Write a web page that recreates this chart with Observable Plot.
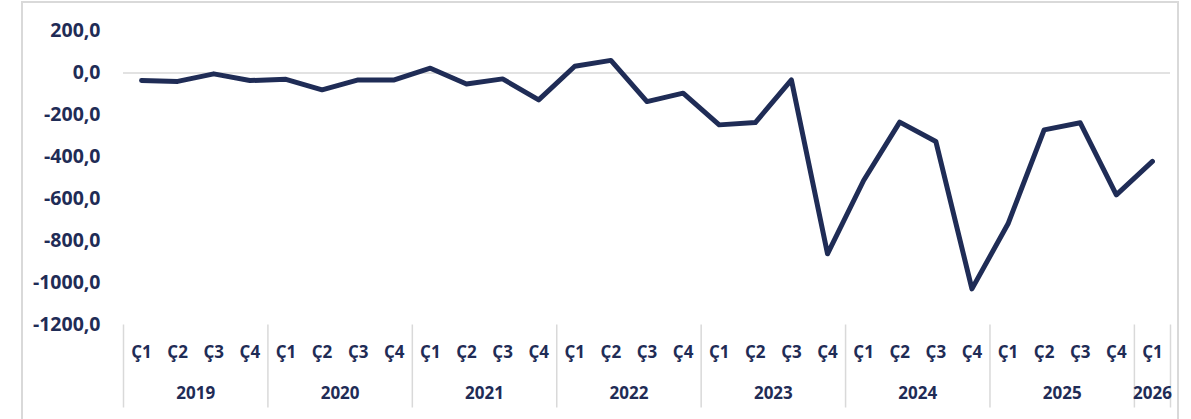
<!DOCTYPE html>
<html>
<head>
<meta charset="utf-8">
<script src="https://cdn.jsdelivr.net/npm/d3@7"></script>
<script src="https://cdn.jsdelivr.net/npm/@observablehq/plot@0.6"></script>
<style>
  html, body { margin: 0; padding: 0; background: #fff; overflow: hidden; }
  #wrap { position: relative; width: 1191px; height: 419px; }
  #frame { position: absolute; left: 21px; top: 1px; width: 1158px; height: 440px; border: 2px solid #d9d9d9; box-sizing: border-box; }
  #chart { position: absolute; left: 0; top: 0; }
</style>
</head>
<body>
<div id="wrap"><div id="frame"></div><div id="chart"></div></div>
<script>
const years = [2019, 2020, 2021, 2022, 2023, 2024, 2025, 2026];
const quarters = ["Ç1", "Ç2", "Ç3", "Ç4"];
const quartersPerYear = [4, 4, 4, 4, 4, 4, 4, 1];
const values = [
  -36, -40, -4, -36,
  -30, -80, -33, -33,
  23, -52, -28, -128,
  32, 60, -136, -96,
  -247, -236, -33, -861,
  -512, -234, -326, -1028,
  -718, -271, -237, -580,
  -421
];
const yTicks = [200, 0, -200, -400, -600, -800, -1000, -1200];

// Build rows
const rows = [];
const yearLabels = [];
const bounds = [-0.5];
let idx = 0;
years.forEach((yr, k) => {
  const start = idx;
  for (let q = 0; q < quartersPerYear[k]; q++) {
    rows.push({ i: idx, year: yr, q: quarters[q], v: values[idx] });
    idx++;
  }
  yearLabels.push({ x: (start + idx - 1) / 2, label: String(yr) });
  bounds.push(idx - 0.5);
});

const navy = "#1f2c56";
const fmt = d => d.toFixed(1).replace(".", ",");

const chart = Plot.plot({
  width: 1191,
  height: 419,
  marginLeft: 123,
  marginRight: 21,
  marginTop: 30.5,
  marginBottom: 94.5,
  style: { fontFamily: "'Open Sans', sans-serif", fontWeight: 700, color: navy, background: "transparent", overflow: "visible" },
  x: { domain: [-0.5, rows.length - 0.5], axis: null },
  y: { domain: [-1200, 200], label: null },
  marks: [
    Plot.ruleY([0], { stroke: "#d9d9d9", strokeWidth: 1.5 }),
    Plot.axisY({ ticks: yTicks, tickFormat: fmt, tickSize: 0, tickPadding: 23, fontSize: 19.5, fill: navy, label: null }),
    Plot.ruleX(bounds, { x: d => d, stroke: "#d9d9d9", strokeWidth: 1.5, insetTop: 294, insetBottom: -83 }),
    Plot.line(rows, { x: "i", y: "v", stroke: navy, strokeWidth: 5, strokeLinejoin: "round", strokeLinecap: "round" }),
    Plot.text(rows, { x: "i", y: () => -1200, text: "q", dy: 27.5, fontSize: 17, fill: navy, fontWeight: 700 }),
    Plot.text(yearLabels, { x: "x", y: () => -1200, text: "label", dy: 68.5, fontSize: 17, fill: navy, fontWeight: 700 })
  ]
});
document.getElementById("chart").appendChild(chart);
</script>
</body>
</html>
